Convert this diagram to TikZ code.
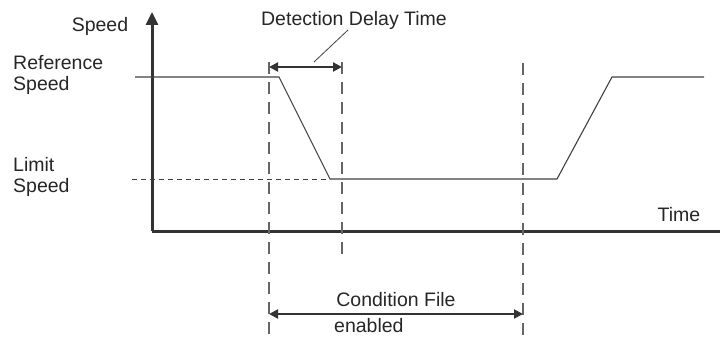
\documentclass[tikz,border=0pt]{standalone}
\usepackage{fontspec}
\setmainfont{Liberation Sans}
\usetikzlibrary{arrows.meta}
\begin{document}
\begin{tikzpicture}[x=1pt,y=-1pt,
  lbl/.style={font=\fontsize{19.5}{20.5}\selectfont, text=black!85, inner sep=0pt},
  axis/.style={line width=3pt, draw=black!80},
  speedline/.style={line width=1.1pt, draw=black!75},
  guide/.style={line width=1.2pt, draw=black!60, dash pattern=on 12pt off 8pt},
  limitline/.style={line width=1pt, draw=black!75, dash pattern=on 5pt off 4pt},
  span/.style={line width=2pt, draw=black!80, {Triangle[length=9pt,width=9pt]}-{Triangle[length=9pt,width=9pt]}},
  leader/.style={line width=0.8pt, draw=black!75}]
\useasboundingbox (0,0) rectangle (720,337);

% axes
\coordinate (origin) at (152,231);
\coordinate (ytop) at (152,12);
\coordinate (xend) at (721,231);
\draw[axis, -{Triangle[length=13pt,width=12pt]}] (origin) -- (ytop);
\draw[axis] (origin) -- (xend);

% speed profile
\coordinate (s0) at (135,77);
\coordinate (s1) at (279,77);
\coordinate (s2) at (330,179);
\coordinate (s3) at (557,179);
\coordinate (s4) at (612,77);
\coordinate (s5) at (704,77);
\draw[speedline] (s0) -- (s1) -- (s2) -- (s3) -- (s4) -- (s5);

% limit speed level
\coordinate (l0) at (132,179);
\draw[limitline] (l0) -- (s2);

% vertical guides
\coordinate (g1t) at (269,62);  \coordinate (g1b) at (269,337);
\coordinate (g2t) at (342,62);  \coordinate (g2b) at (342,258);
\coordinate (g3t) at (523,63);  \coordinate (g3b) at (523,337);
\draw[guide] (g1t) -- (g1b);
\draw[guide] (g2t) -- (g2b);
\draw[guide] (g3t) -- (g3b);

% detection delay span
\coordinate (d1) at (269,67);
\coordinate (d2) at (342,67);
\draw[span] (d1) -- (d2);
\node[lbl] (ddt) at (354,20) {Detection Delay Time};
\coordinate (lead0) at (314,62);
\coordinate (lead1) at (348,30);
\draw[leader] (lead0) -- (lead1);

% condition file span
\coordinate (c1) at (269,314);
\coordinate (c2) at (523,314);
\draw[span] (c1) -- (c2);
\node[lbl] (cf) at (396,300) {Condition File};
\node[lbl, anchor=west] (en) at (334,326) {enabled};

% axis labels
\node[lbl] (speed) at (100,26) {Speed};
\node[lbl] (time) at (679,215) {Time};
\node[lbl, anchor=west, align=left] (ref) at (13,75) {Reference\\Speed};
\node[lbl, anchor=west, align=left] (lim) at (13,177) {Limit\\Speed};
\end{tikzpicture}
\end{document}
